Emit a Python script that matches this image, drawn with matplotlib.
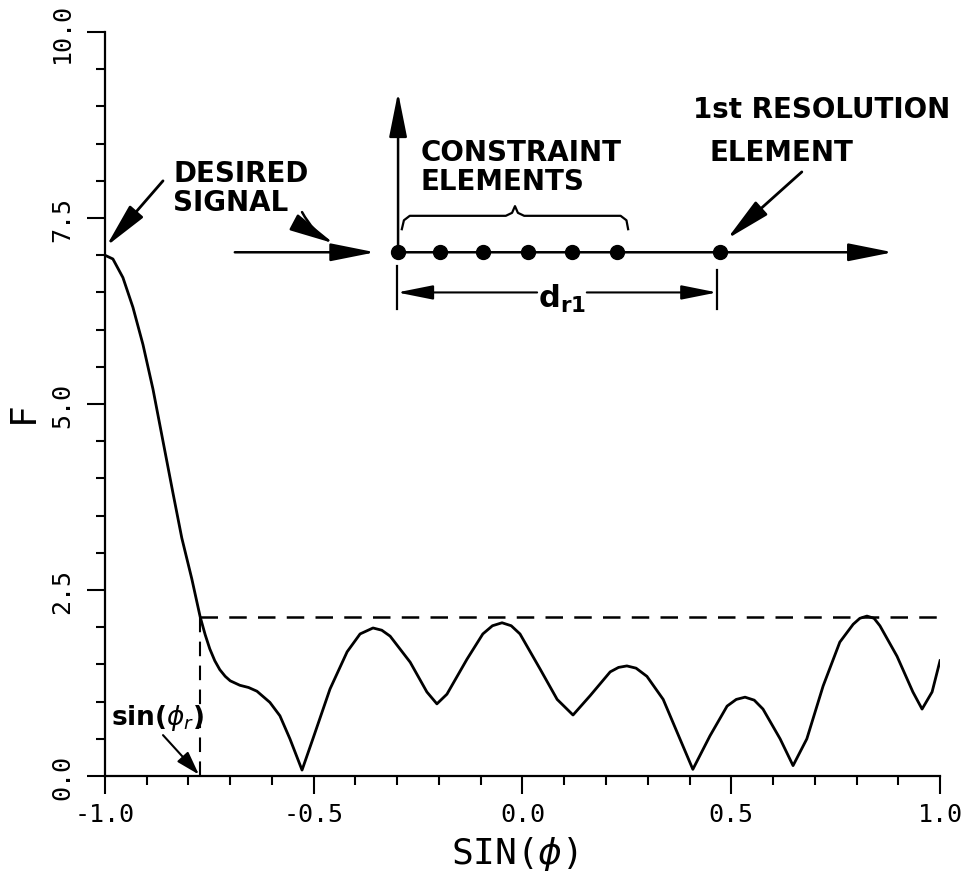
import matplotlib
matplotlib.use('Agg')
import matplotlib.pyplot as plt

# pattern F vs sin(phi)
sin_phi = [-1.0, -0.981, -0.957, -0.933, -0.909, -0.885, -0.861, -0.837, -0.816, -0.792,
           -0.772, -0.760, -0.749, -0.737, -0.725, -0.712, -0.700, -0.677, -0.656, -0.636,
           -0.605, -0.581, -0.557, -0.528, -0.502, -0.461, -0.420, -0.389, -0.358, -0.337,
           -0.317, -0.269, -0.229, -0.205, -0.181, -0.133, -0.095, -0.072, -0.049, -0.027,
           -0.006, 0.042, 0.083, 0.121, 0.162, 0.210, 0.230, 0.250, 0.272, 0.298,
           0.337, 0.377, 0.408, 0.449, 0.490, 0.512, 0.533, 0.555, 0.576, 0.617,
           0.648, 0.681, 0.720, 0.760, 0.792, 0.808, 0.825, 0.842, 0.856, 0.897,
           0.935, 0.957, 0.981, 1.0]
F = [7.00, 6.95, 6.70, 6.30, 5.80, 5.20, 4.50, 3.80, 3.20, 2.65,
     2.14, 1.90, 1.71, 1.55, 1.43, 1.34, 1.28, 1.22, 1.19, 1.14,
     0.99, 0.81, 0.50, 0.08, 0.50, 1.17, 1.67, 1.91, 1.99, 1.96,
     1.88, 1.53, 1.13, 0.97, 1.10, 1.57, 1.91, 2.02, 2.06, 2.02,
     1.91, 1.44, 1.03, 0.82, 1.08, 1.40, 1.46, 1.48, 1.45, 1.34,
     1.03, 0.50, 0.09, 0.54, 0.94, 1.03, 1.06, 1.02, 0.90, 0.50,
     0.14, 0.50, 1.21, 1.80, 2.04, 2.12, 2.15, 2.12, 2.02, 1.61,
     1.13, 0.90, 1.13, 1.55]

x_ticks = [-1.0, -0.5, 0.0, 0.5, 1.0]
x_labels = ['-1.0', '-0.5', '0.0', '0.5', '1.0']
y_ticks = [0.0, 2.5, 5.0, 7.5, 10.0]
y_labels = ['0.0', '2.5', '5.0', '7.5', '10.0']

sin_phi_r = -0.772     # edge of main beam
sidelobe_level = 2.14  # dashed level

# little array sketch in the corner
array_y = 7.04
constraint_x = [-0.298, -0.198, -0.095, 0.013, 0.119, 0.226]
resolution_x = 0.473

mono = 'DejaVu Sans Mono'
plt.rcParams['mathtext.fontset'] = 'dejavusans'

fig = plt.figure(figsize=(9.71, 8.79), dpi=100)
ax = fig.add_axes([0.1081, 0.116, 0.860, 0.8464])

ax.plot(sin_phi, F, color='k', lw=2.0, solid_joinstyle='round')
dash = (0, (7, 4.5))
ax.plot([sin_phi_r, 1.0], [sidelobe_level, sidelobe_level], color='k', lw=1.8, ls=dash)
ax.plot([sin_phi_r, sin_phi_r], [0.0, sidelobe_level], color='k', lw=1.5, ls=dash)

ax.set_xlim(-1.0, 1.0)
ax.set_ylim(0.0, 10.0)
ax.spines['top'].set_visible(False)
ax.spines['right'].set_visible(False)
for s in ['left', 'bottom']:
    ax.spines[s].set_linewidth(1.6)

ax.set_xticks(x_ticks)
ax.set_xticklabels(x_labels, fontfamily=mono, fontsize=18)
ax.set_yticks(y_ticks)
ax.set_yticklabels(y_labels, fontfamily=mono, fontsize=18, rotation=90, va='center')
ax.set_xticks([v / 10 for v in range(-10, 11)], minor=True)
ax.set_yticks([v / 2 for v in range(0, 21)], minor=True)
ax.tick_params(which='major', length=13, width=1.5, direction='out')
ax.tick_params(which='minor', length=6.5, width=1.5, direction='out')
ax.tick_params(axis='x', which='major', pad=6)
ax.tick_params(axis='y', which='major', pad=9)

ax.set_xlabel('SIN($\\phi$)', fontfamily=mono, fontsize=26)
ax.xaxis.set_label_coords(0.49, -0.078)
ax.set_ylabel('F', fontfamily=mono, fontsize=26)
ax.yaxis.set_label_coords(-0.078, 0.49)

bold = dict(fontsize=20, fontweight='bold', color='k', clip_on=False)


def arrow(tail, tip, lw=1.8, hl=1.1, hw=0.22, ms=25, rad=0.0):
    ax.annotate('', xy=tip, xytext=tail, annotation_clip=False,
                arrowprops=dict(arrowstyle='-|>,head_length=%s,head_width=%s' % (hl, hw),
                                lw=lw, color='k', mutation_scale=ms,
                                shrinkA=0, shrinkB=0,
                                connectionstyle='arc3,rad=%s' % rad))


# desired signal label
ax.text(-0.837, 8.30, 'DESIRED\nSIGNAL', ha='left', va='top', linespacing=1.05, **bold)
arrow((-0.861, 8.0), (-0.997, 7.12), lw=2.0)
arrow((-0.528, 7.58), (-0.452, 7.16), rad=0.15)

# array sketch
arrow((-0.689, array_y), (-0.353, array_y))
arrow((constraint_x[0], array_y), (0.887, array_y))
arrow((constraint_x[0], array_y), (constraint_x[0], 9.19))
ax.plot(constraint_x + [resolution_x], [array_y] * (len(constraint_x) + 1),
        'o', color='k', ms=10, clip_on=False)

# brace over the constraint elements
bx = [-0.289, -0.284, -0.270, -0.040, -0.025, -0.018, -0.011, 0.004, 0.235, 0.249, 0.253]
by = [7.35, 7.47, 7.53, 7.53, 7.57, 7.66, 7.57, 7.53, 7.53, 7.47, 7.35]
ax.plot(bx, by, color='k', lw=1.6, clip_on=False)
ax.text(-0.245, 8.58, 'CONSTRAINT\nELEMENTS', ha='left', va='top', linespacing=1.05, **bold)

# d_r1 dimension
ax.plot([-0.300, -0.300], [6.28, 6.85], color='k', lw=1.6)
ax.plot([0.466, 0.466], [6.28, 6.80], color='k', lw=1.6)
arrow((0.035, 6.50), (-0.300, 6.50), lw=1.5, hl=1.0, hw=0.2, ms=22)
arrow((0.154, 6.50), (0.466, 6.50), lw=1.5, hl=1.0, hw=0.2, ms=22)
ax.text(0.095, 6.42, '$\\mathbf{d_{r1}}$', ha='center', va='center', fontsize=22, clip_on=False)

# first resolution element
ax.text(0.408, 9.16, '1st RESOLUTION', ha='left', va='top', **bold)
ax.text(0.449, 8.58, 'ELEMENT', ha='left', va='top', **bold)
arrow((0.669, 8.12), (0.490, 7.22), lw=2.0)

# sin(phi_r) marker
ax.text(-0.985, 0.80, 'sin($\\phi_r$)', ha='left', va='center', fontsize=19,
        fontweight='bold', clip_on=False)
arrow((-0.861, 0.55), (-0.775, 0.02), lw=1.5, hl=0.8, hw=0.25, ms=18)

fig.savefig('out.png', dpi=100)
